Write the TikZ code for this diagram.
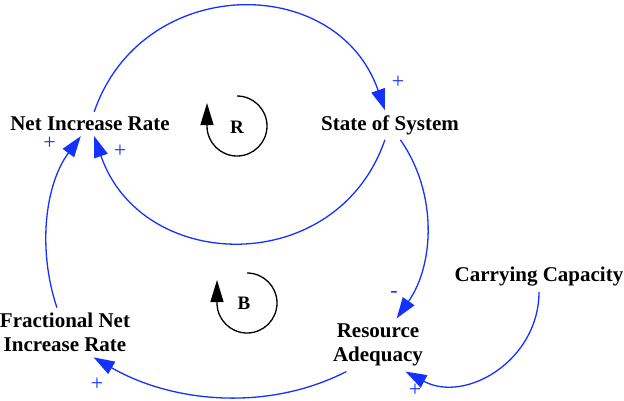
\documentclass[tikz,border=0pt]{standalone}
\usepackage{fontspec}
\setmainfont{Liberation Serif}
\usetikzlibrary{arrows.meta,calc}
\definecolor{linkblue}{RGB}{20,50,255}
\begin{document}
\begin{tikzpicture}[x=1pt,y=1pt,
  lbl/.style={font=\fontsize{21}{24.5}\selectfont\bfseries, align=center, inner xsep=3pt, inner ysep=5pt},
  link/.style={draw=linkblue, line width=1.3pt, -{Triangle[length=21pt,width=14pt]}},
  pol/.style={text=linkblue, font=\fontsize{22}{22}\selectfont, inner sep=0pt},
  loopline/.style={draw=black, line width=1.3pt, -{Triangle[length=22pt,width=13pt]}},
  looplbl/.style={font=\fontsize{19}{19}\selectfont\bfseries, inner sep=0pt}]
\useasboundingbox (0,0) rectangle (624,-400);

% variables
\node[lbl] (nir)  at (90,-124)   {Net Increase Rate};
\node[lbl] (sos)  at (390,-125)  {State of System};
\node[lbl] (cc)   at (539,-277)  {Carrying Capacity};
\node[lbl] (frac) at (65,-332.5) {Fractional Net\\Increase Rate};
\node[lbl] (ra)   at (378,-345)  {Resource\\Adequacy};

% links
\draw[link] (nir.71) to[out=71,in=109,looseness=1.285] (sos.109);
\draw[link] (sos.-109) to[out=-109,in=-71,looseness=1.285] (nir.-71);
\draw[link] (frac.108.5) to[out=108.5,in=233.5,looseness=0.9] (nir.233.5);
\draw[link] (sos.-55) to[out=-55,in=55,looseness=0.936] (ra.55);
\draw[link] (ra.220) to[out=-153,in=-30,looseness=0.907] (frac.-41);
\draw[link] (cc.-90) to[out=-90,in=-28,looseness=1.125] (ra.-44);

% polarities
\node[pol] (p1) at (398,-82)  {+};
\node[pol] (p2) at (120,-151) {+};
\node[pol] (p3) at (49.5,-143.5) {+};
\node[pol] (p4) at (394,-294) {-};
\node[pol] (p5) at (97,-384)  {+};
\node[pol] (p6) at (415,-390) {+};

% loop symbols
\coordinate (rc) at (237,-126);
\coordinate (bc) at (247,-303);
\draw[loopline] ($(rc)+(0,30)$) arc[start angle=90,end angle=-180,radius=30] -- ++(0,23);
\draw[loopline] ($(bc)+(0,30)$) arc[start angle=90,end angle=-180,radius=30] -- ++(0,23);
\node[looplbl] (rl) at (237,-127) {R};
\node[looplbl] (bl) at (244,-303) {B};
\end{tikzpicture}
\end{document}
